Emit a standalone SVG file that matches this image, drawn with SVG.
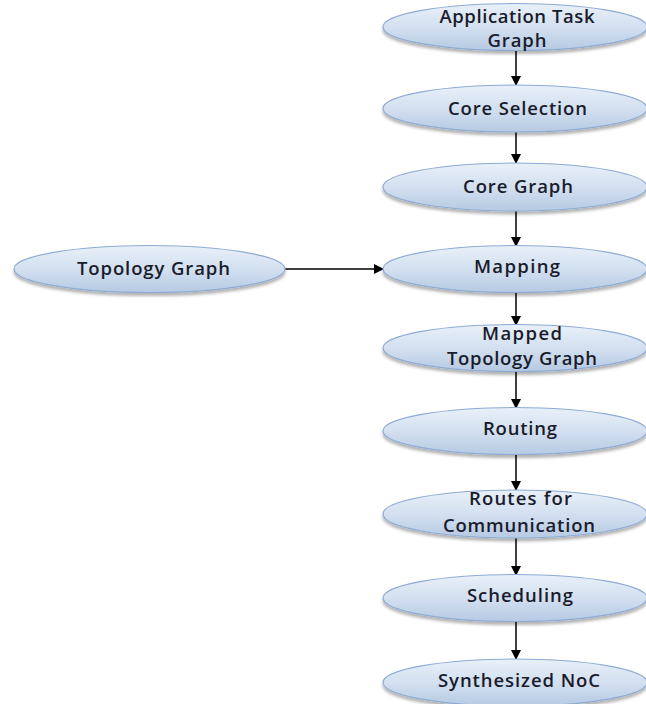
<svg xmlns="http://www.w3.org/2000/svg" width="646" height="704" viewBox="0 0 646 704">
  <style>
    .node ellipse { fill: url(#fillGrad); stroke: #8eabd3; stroke-width: 1.2; filter: url(#shadow); }
    .node text { font-family: "Open Sans", "Liberation Sans", sans-serif; font-size: 18.5px; font-weight: 600; fill: #1a1c2c; text-anchor: middle; }
    .edge { stroke: #000; stroke-width: 1.5; fill: none; marker-end: url(#arrow); }
  </style>
  <defs>
    <linearGradient id="fillGrad" x1="0" y1="0" x2="0" y2="1">
      <stop offset="0" stop-color="#e9f0f9"/>
      <stop offset="0.5" stop-color="#d3e0f0"/>
      <stop offset="1" stop-color="#b6cae3"/>
    </linearGradient>
    <filter id="shadow" x="-10%" y="-20%" width="120%" height="160%">
      <feGaussianBlur in="SourceAlpha" stdDeviation="1.8"/>
      <feOffset dx="0" dy="3" result="b"/>
      <feComponentTransfer><feFuncA type="linear" slope="0.3"/></feComponentTransfer>
      <feMerge><feMergeNode/><feMergeNode in="SourceGraphic"/></feMerge>
    </filter>
    <marker id="arrow" markerWidth="10" markerHeight="10" refX="9" refY="5" orient="auto" markerUnits="userSpaceOnUse">
      <path d="M0,0 L10,5 L0,10 z" fill="#000"/>
    </marker>
  </defs>

  <g id="connectors">
    <line class="edge" x1="516" y1="50" x2="516" y2="85"/>
    <line class="edge" x1="516" y1="132" x2="516" y2="163"/>
    <line class="edge" x1="516" y1="211" x2="516" y2="246"/>
    <line class="edge" x1="285" y1="269" x2="383" y2="269"/>
    <line class="edge" x1="516" y1="292" x2="516" y2="325"/>
    <line class="edge" x1="516" y1="371" x2="516" y2="408"/>
    <line class="edge" x1="516" y1="454" x2="516" y2="490"/>
    <line class="edge" x1="516" y1="538" x2="516" y2="575"/>
    <line class="edge" x1="516" y1="621" x2="516" y2="659"/>
  </g>

  <g id="app-task-graph" class="node">
    <ellipse cx="515" cy="27" rx="132" ry="23.5"/>
    <text x="517" y="23" textLength="155" lengthAdjust="spacing">Application Task</text>
    <text x="517" y="47" textLength="59" lengthAdjust="spacing">Graph</text>
  </g>
  <g id="core-selection" class="node">
    <ellipse cx="515" cy="108.5" rx="132" ry="23.5"/>
    <text x="517.5" y="115" textLength="139" lengthAdjust="spacing">Core Selection</text>
  </g>
  <g id="core-graph" class="node">
    <ellipse cx="515" cy="187" rx="132" ry="24"/>
    <text x="518" y="193" textLength="110" lengthAdjust="spacing">Core Graph</text>
  </g>
  <g id="topology-graph" class="node">
    <ellipse cx="149.5" cy="269" rx="135.5" ry="23.5"/>
    <text x="153.5" y="275" textLength="153" lengthAdjust="spacing">Topology Graph</text>
  </g>
  <g id="mapping" class="node">
    <ellipse cx="515" cy="269" rx="132" ry="23.5"/>
    <text x="517" y="273" textLength="86" lengthAdjust="spacing">Mapping</text>
  </g>
  <g id="mapped-topology-graph" class="node">
    <ellipse cx="515" cy="348" rx="132" ry="23.5"/>
    <text x="522" y="340" textLength="80" lengthAdjust="spacing">Mapped</text>
    <text x="522" y="365" textLength="150" lengthAdjust="spacing">Topology Graph</text>
  </g>
  <g id="routing" class="node">
    <ellipse cx="515" cy="431" rx="132" ry="23.5"/>
    <text x="520" y="435" textLength="74" lengthAdjust="spacing">Routing</text>
  </g>
  <g id="routes-for-communication" class="node">
    <ellipse cx="515" cy="514" rx="132" ry="24"/>
    <text x="520.5" y="505" textLength="103" lengthAdjust="spacing">Routes for</text>
    <text x="519" y="532" textLength="152" lengthAdjust="spacing">Communication</text>
  </g>
  <g id="scheduling" class="node">
    <ellipse cx="515" cy="598" rx="132" ry="23.5"/>
    <text x="520" y="602" textLength="106" lengthAdjust="spacing">Scheduling</text>
  </g>
  <g id="synthesized-noc" class="node">
    <ellipse cx="515" cy="682.5" rx="132" ry="23.5"/>
    <text x="519" y="687" textLength="162" lengthAdjust="spacing">Synthesized NoC</text>
  </g>
</svg>
